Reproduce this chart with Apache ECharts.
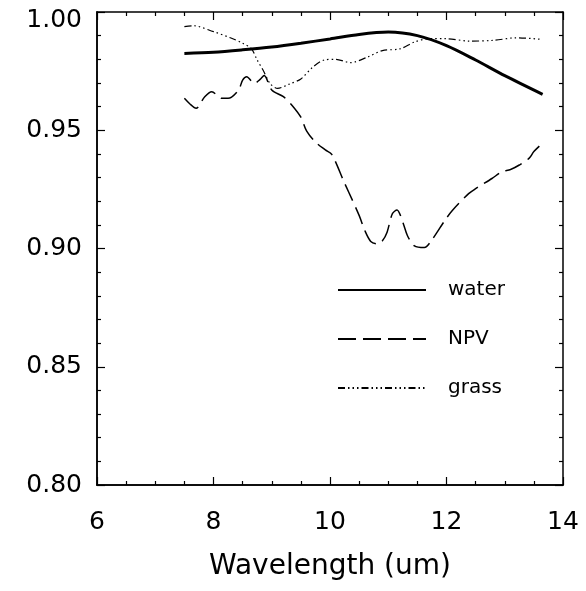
<!DOCTYPE html>
<html>
<head>
<meta charset="utf-8">
<script src="https://cdn.jsdelivr.net/npm/echarts@6/dist/echarts.min.js"></script>
<style>
html,body{margin:0;padding:0;background:#fff;}
#chart{width:586px;height:591px;}
</style>
</head>
<body>
<div id="chart"></div>
<script>
const xTicks = [6, 8, 10, 12, 14];
const yTicks = [0.80, 0.85, 0.90, 0.95, 1.00];

const waterX = [7.5, 8.0, 8.5, 9.0, 9.5, 10.0, 10.5, 11.0, 11.5, 12.0, 12.5, 13.0, 13.65];
const waterY = [0.9825, 0.9830, 0.9840, 0.9852, 0.9868, 0.9886, 0.9905, 0.9915, 0.9900, 0.9858, 0.9797, 0.9731, 0.9652];

const npvX = [7.5, 7.6, 7.7, 7.85, 7.97, 8.14, 8.25, 8.43, 8.5, 8.57, 8.7, 8.8, 8.87, 9.0, 9.2, 9.35, 9.5, 9.6, 9.75, 9.92, 10.03, 10.24, 10.32, 10.5, 10.6, 10.7, 10.81, 10.9, 10.98, 11.07, 11.15, 11.25, 11.33, 11.45, 11.62, 11.74, 11.97, 12.1, 12.38, 12.5, 12.78, 12.95, 13.1, 13.25, 13.42, 13.5, 13.65];
const npvY = [0.9635, 0.9610, 0.9593, 0.9642, 0.9663, 0.9635, 0.9635, 0.9670, 0.9712, 0.9726, 0.9698, 0.9715, 0.9732, 0.9670, 0.9642, 0.9605, 0.9555, 0.9496, 0.9450, 0.9417, 0.9398, 0.9282, 0.9239, 0.9140, 0.9075, 0.9030, 0.9020, 0.9033, 0.9069, 0.9147, 0.9163, 0.9111, 0.9054, 0.9011, 0.9004, 0.9033, 0.9118, 0.9161, 0.9232, 0.9253, 0.9296, 0.9324, 0.9334, 0.9353, 0.9382, 0.9410, 0.9446];

const grassX = [7.5, 7.65, 8.0, 8.3, 8.5, 8.65, 8.75, 8.85, 8.97, 9.1, 9.3, 9.5, 9.7, 9.9, 10.1, 10.35, 10.65, 10.9, 11.2, 11.45, 11.7, 12.0, 12.4, 12.8, 13.2, 13.65];
const grassY = [0.9938, 0.9942, 0.9917, 0.9890, 0.9868, 0.9845, 0.9797, 0.9755, 0.9698, 0.9677, 0.9695, 0.9717, 0.9766, 0.9797, 0.9800, 0.9786, 0.9810, 0.9837, 0.9844, 0.9873, 0.9887, 0.9887, 0.9877, 0.9880, 0.9891, 0.9884];

const seriesNames = ['water', 'NPV', 'grass'];

function pairs(xs, ys) { return xs.map((x, i) => [x, ys[i]]); }

const FONT = 'DejaVu Sans';
const chart = echarts.init(document.getElementById('chart'), null, {renderer: 'canvas'});

const lineBlack = {color: '#000', width: 1.5};
const tickStyle = {color: '#000', width: 1.2};

function tickAxis(position, min, max, interval, split) {
  return {
    type: 'value', position: position, min: min, max: max, interval: interval,
    axisLine: {show: true, onZero: false, lineStyle: lineBlack},
    axisTick: {show: true, inside: true, length: 8, lineStyle: tickStyle},
    minorTick: {show: true, splitNumber: split, length: 4, lineStyle: tickStyle},
    axisLabel: {show: false},
    splitLine: {show: false},
    minorSplitLine: {show: false}
  };
}

const xMin = xTicks[0], xMax = xTicks[xTicks.length - 1];
const yMin = yTicks[0], yMax = yTicks[yTicks.length - 1];

const xLabelAxis = {
  type: 'value', position: 'bottom', min: xMin, max: xMax, interval: 2,
  axisLine: {show: true, onZero: false, lineStyle: lineBlack},
  axisTick: {show: false},
  minorTick: {show: false},
  splitLine: {show: false},
  axisLabel: {show: true, margin: 25, fontFamily: FONT, fontSize: 25, color: '#000',
    formatter: v => String(v)},
  name: 'Wavelength (um)', nameLocation: 'middle', nameGap: 68,
  nameTextStyle: {fontFamily: FONT, fontSize: 28, color: '#000'}
};
const yLabelAxis = {
  type: 'value', position: 'left', min: yMin, max: yMax, interval: 0.05,
  axisLine: {show: true, onZero: false, lineStyle: lineBlack},
  axisTick: {show: false},
  minorTick: {show: false},
  splitLine: {show: false},
  axisLabel: {show: true, margin: 15, fontFamily: FONT, fontSize: 25, color: '#000',
    formatter: v => (Math.abs(v - yMax) < 1e-9 ? '{t|' + v.toFixed(2) + '}' : v.toFixed(2)),
    rich: {t: {fontFamily: FONT, fontSize: 25, color: '#000', padding: [16, 0, 0, 0]}}}
};

chart.setOption({
  backgroundColor: '#fff',
  animation: false,
  grid: {left: 97, right: 23, top: 12, bottom: 106, containLabel: false},
  legend: {
    orient: 'vertical',
    left: 332,
    top: 275,
    itemWidth: 88,
    itemHeight: 20,
    itemGap: 29,
    data: seriesNames,
    itemStyle: {opacity: 0},
    textStyle: {fontFamily: FONT, fontSize: 20, color: '#000', padding: [0, 0, 0, 17]},
    selectedMode: false
  },
  xAxis: [
    xLabelAxis,
    tickAxis('top', xMin, xMax, 2, 4),
    tickAxis('bottom', xMin, xMax, 2, 4)
  ],
  yAxis: [
    yLabelAxis,
    tickAxis('right', yMin, yMax, 0.05, 5),
    tickAxis('left', yMin, yMax, 0.05, 5)
  ],
  series: [
    {name: 'water', type: 'line', data: pairs(waterX, waterY), smooth: 0.3, symbol: 'none',
      lineStyle: {color: '#000', width: 3, type: 'solid'}, itemStyle: {color: '#000'}},
    {name: 'NPV', type: 'line', data: pairs(npvX, npvY), smooth: 0.3, symbol: 'none',
      lineStyle: {color: '#000', width: 1.5, type: [18, 7]}, itemStyle: {color: '#000'}},
    {name: 'grass', type: 'line', data: pairs(grassX, grassY), smooth: 0.3, symbol: 'none',
      lineStyle: {color: '#000', width: 1.2, type: [7, 3, 1.5, 3, 1.5, 3, 1.5, 3]}, itemStyle: {color: '#000'}}
  ]
});
</script>
</body>
</html>
